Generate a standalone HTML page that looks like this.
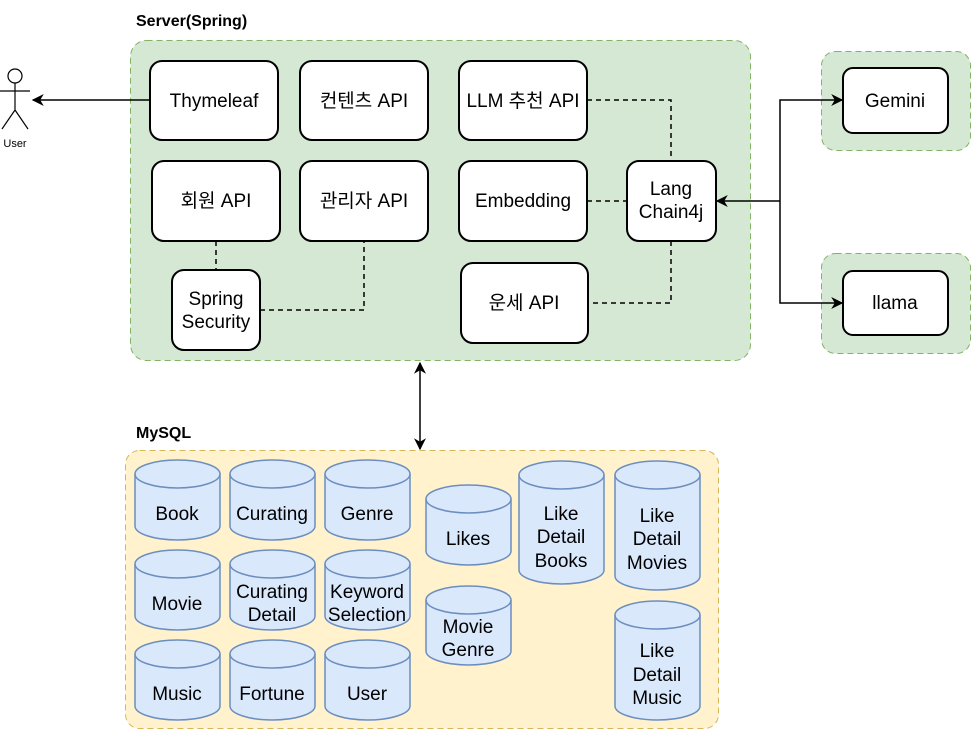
<!DOCTYPE html>
<html><head><meta charset="utf-8"><style>
html,body{margin:0;padding:0;background:#fff;}
svg text{font-family:"Liberation Sans","Noto Sans CJK KR",sans-serif;}
</style></head><body>
<svg width="971" height="731" viewBox="0 0 971 731" xmlns="http://www.w3.org/2000/svg">
<defs>
<marker id="ar" viewBox="0 0 10 10" refX="9" refY="5" markerWidth="12" markerHeight="12" orient="auto-start-reverse" markerUnits="userSpaceOnUse"><path d="M0,0 L10,5 L0,10 L3,5 z" fill="#000"/></marker>
</defs>
<text x="136" y="26" font-size="16" font-weight="bold">Server(Spring)</text>
<text x="136" y="438" font-size="16" font-weight="bold">MySQL</text>
<rect x="130.5" y="40.5" width="620" height="320" rx="16" fill="#d5e8d4" stroke="#82b366" stroke-dasharray="6 4"/>
<rect x="821.5" y="51.5" width="149" height="99" rx="14" fill="#d5e8d4" stroke="#82b366" stroke-dasharray="6 4"/>
<rect x="821.5" y="253.5" width="149" height="100" rx="14" fill="#d5e8d4" stroke="#82b366" stroke-dasharray="6 4"/>
<rect x="125.5" y="450.5" width="593" height="278" rx="14" fill="#fff2cc" stroke="#d6b656" stroke-dasharray="6 4"/>
<g stroke="#000" stroke-width="1.5" fill="none" stroke-dasharray="5 4">
<path d="M587,100 H671 V161"/>
<path d="M587,201 H627"/>
<path d="M671,241 V303 H588"/>
<path d="M216,241 V270"/>
<path d="M260,310 H364 V241"/>
</g>
<g stroke="#000" stroke-width="1.5" fill="none">
<path d="M150,100 H33" marker-end="url(#ar)"/>
<path d="M780,201 H717" marker-end="url(#ar)"/>
<path d="M780,201 V100 H842" marker-end="url(#ar)"/>
<path d="M780,201 V303 H842" marker-end="url(#ar)"/>
<path d="M420,363 V449" marker-start="url(#ar)" marker-end="url(#ar)"/>
</g>
<g fill="#fff" stroke="#000" stroke-width="2">
<rect x="150" y="61" width="128" height="79" rx="12"/>
<rect x="300" y="61" width="128" height="79" rx="12"/>
<rect x="459" y="61" width="128" height="79" rx="12"/>
<rect x="152" y="161" width="128" height="80" rx="12"/>
<rect x="300" y="161" width="128" height="80" rx="12"/>
<rect x="459" y="161" width="128" height="80" rx="12"/>
<rect x="627" y="161" width="89" height="80" rx="12"/>
<rect x="461" y="263" width="127" height="80" rx="12"/>
<rect x="172" y="270" width="88" height="80" rx="12"/>
<rect x="843" y="68" width="105" height="65" rx="10"/>
<rect x="843" y="271" width="105" height="64" rx="10"/>
</g>
<g font-size="19" text-anchor="middle">
<text x="214" y="107">Thymeleaf</text>
<text x="364" y="107">컨텐츠 API</text>
<text x="523" y="107">LLM 추천 API</text>
<text x="216" y="207">회원 API</text>
<text x="364" y="207">관리자 API</text>
<text x="523" y="207">Embedding</text>
<text x="671" y="195">Lang</text>
<text x="671" y="218">Chain4j</text>
<text x="524" y="309">운세 API</text>
<text x="216" y="305">Spring</text>
<text x="216" y="328">Security</text>
<text x="895" y="107">Gemini</text>
<text x="895" y="309">llama</text>
</g>
<g stroke="#000" stroke-width="1.2" fill="none">
<circle cx="15" cy="76" r="7" fill="#fff"/>
<path d="M15,83 V110 M0,91 H30 M15,110 L2,129 M15,110 L28,129"/>
</g>
<text x="15" y="147" font-size="11" text-anchor="middle">User</text>
<g fill="#dae8fc" stroke="#6c8ebf" stroke-width="1.5">
<path d="M135,474 a42.5,14 0 0 1 85,0 v52 a42.5,14 0 0 1 -85,0 z"/><path d="M135,474 a42.5,14 0 0 0 85,0" fill="none"/>
<path d="M230,474 a42.5,14 0 0 1 85,0 v52 a42.5,14 0 0 1 -85,0 z"/><path d="M230,474 a42.5,14 0 0 0 85,0" fill="none"/>
<path d="M325,474 a42.5,14 0 0 1 85,0 v52 a42.5,14 0 0 1 -85,0 z"/><path d="M325,474 a42.5,14 0 0 0 85,0" fill="none"/>
<path d="M135,564 a42.5,14 0 0 1 85,0 v52 a42.5,14 0 0 1 -85,0 z"/><path d="M135,564 a42.5,14 0 0 0 85,0" fill="none"/>
<path d="M230,564 a42.5,14 0 0 1 85,0 v52 a42.5,14 0 0 1 -85,0 z"/><path d="M230,564 a42.5,14 0 0 0 85,0" fill="none"/>
<path d="M325,564 a42.5,14 0 0 1 85,0 v52 a42.5,14 0 0 1 -85,0 z"/><path d="M325,564 a42.5,14 0 0 0 85,0" fill="none"/>
<path d="M135,654 a42.5,14 0 0 1 85,0 v52 a42.5,14 0 0 1 -85,0 z"/><path d="M135,654 a42.5,14 0 0 0 85,0" fill="none"/>
<path d="M230,654 a42.5,14 0 0 1 85,0 v52 a42.5,14 0 0 1 -85,0 z"/><path d="M230,654 a42.5,14 0 0 0 85,0" fill="none"/>
<path d="M325,654 a42.5,14 0 0 1 85,0 v52 a42.5,14 0 0 1 -85,0 z"/><path d="M325,654 a42.5,14 0 0 0 85,0" fill="none"/>
<path d="M426,499 a42.5,14 0 0 1 85,0 v52 a42.5,14 0 0 1 -85,0 z"/><path d="M426,499 a42.5,14 0 0 0 85,0" fill="none"/>
<path d="M426,600 a42.5,14 0 0 1 85,0 v51 a42.5,14 0 0 1 -85,0 z"/><path d="M426,600 a42.5,14 0 0 0 85,0" fill="none"/>
<path d="M519,475 a42.5,14 0 0 1 85,0 v95 a42.5,14 0 0 1 -85,0 z"/><path d="M519,475 a42.5,14 0 0 0 85,0" fill="none"/>
<path d="M615,475 a42.5,14 0 0 1 85,0 v101 a42.5,14 0 0 1 -85,0 z"/><path d="M615,475 a42.5,14 0 0 0 85,0" fill="none"/>
<path d="M615,615 a42.5,14 0 0 1 85,0 v91 a42.5,14 0 0 1 -85,0 z"/><path d="M615,615 a42.5,14 0 0 0 85,0" fill="none"/>
</g>
<g font-size="19" text-anchor="middle">
<text x="177" y="520">Book</text>
<text x="272" y="520">Curating</text>
<text x="367" y="520">Genre</text>
<text x="177" y="610">Movie</text>
<text x="272" y="598">Curating</text>
<text x="272" y="621">Detail</text>
<text x="367" y="598">Keyword</text>
<text x="367" y="621">Selection</text>
<text x="177" y="700">Music</text>
<text x="272" y="700">Fortune</text>
<text x="367" y="700">User</text>
<text x="468" y="545">Likes</text>
<text x="468" y="633">Movie</text>
<text x="468" y="656">Genre</text>
<text x="561" y="520">Like</text>
<text x="561" y="543">Detail</text>
<text x="561" y="567">Books</text>
<text x="657" y="522">Like</text>
<text x="657" y="545">Detail</text>
<text x="657" y="569">Movies</text>
<text x="657" y="657">Like</text>
<text x="657" y="681">Detail</text>
<text x="657" y="704">Music</text>
</g>
</svg>
</body></html>
